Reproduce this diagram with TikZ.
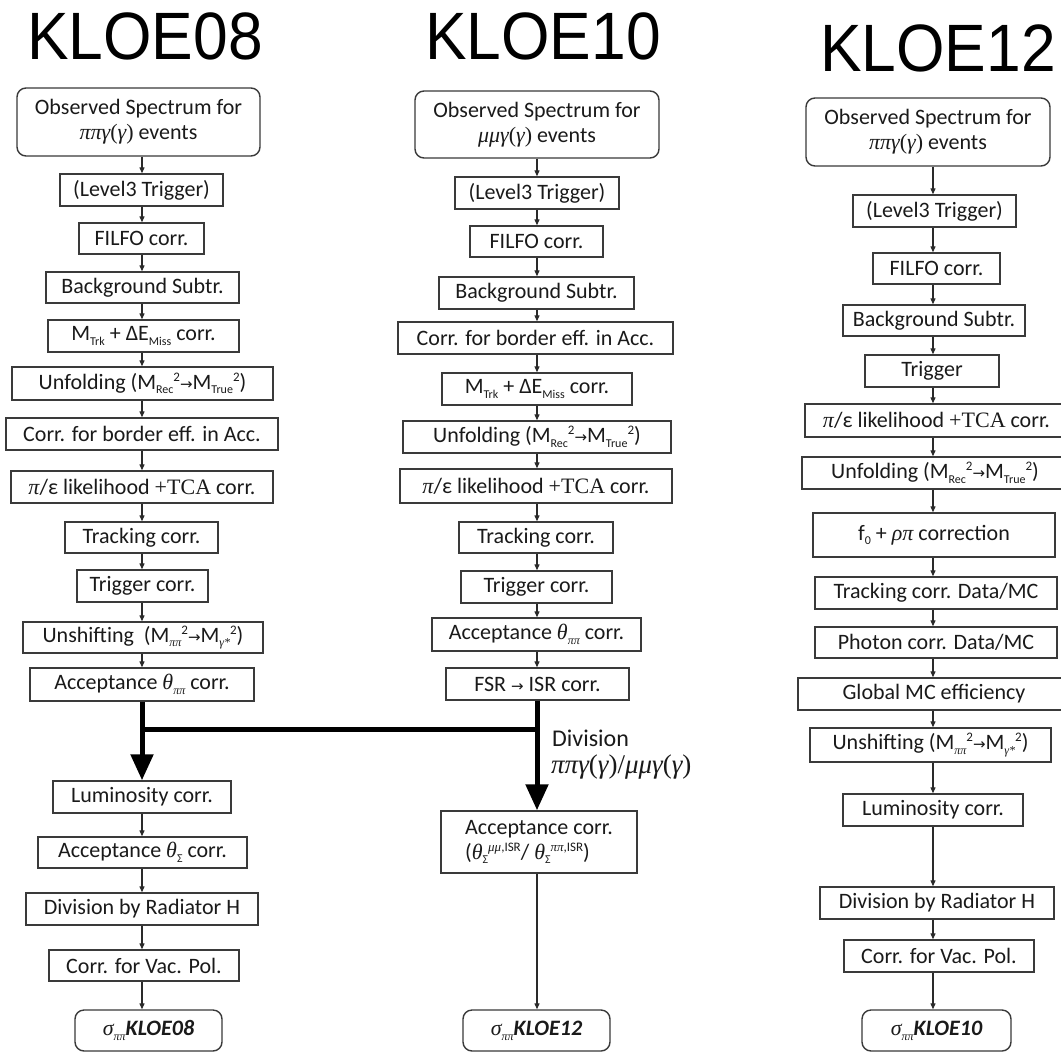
\documentclass[tikz,border=0pt]{standalone}
\usepackage{fontspec}
\setmainfont{Carlito}
\newfontfamily\titlefont{Liberation Sans}
\newfontfamily\serif{Liberation Serif}
\newfontfamily\dv{DejaVu Sans}
\usetikzlibrary{arrows.meta}
\definecolor{boxc}{HTML}{3A3A3A}
\definecolor{txtc}{HTML}{1A1A1A}
\definecolor{linec}{HTML}{2A2A2A}
\newcommand\gk[1]{{\serif\itshape #1}}
\newcommand\lsub[1]{\raisebox{-0.45ex}{\fontsize{12}{12}\selectfont #1}}
\newcommand\lsup[1]{\raisebox{0.75ex}{\fontsize{13}{13}\selectfont #1}}
\newcommand\rarr{{\dv\fontsize{15}{15}\selectfont →}}
\newcommand\bxfont{\fontsize{22}{25}\selectfont\color{txtc}}
\tikzset{
  box/.style={draw=boxc, line width=1.4pt, inner sep=0pt, font=\bxfont, align=center},
  rbox/.style={box, rounded corners=9pt},
  arr/.style={draw=linec, line width=1.2pt, -{Triangle[width=5pt,length=6pt]}},
  bigarr/.style={draw=black, line width=5pt, -{Triangle[width=22pt,length=26pt]}},
  bigline/.style={draw=black, line width=5pt},
  ttl/.style={font=\titlefont\fontsize{67}{67}\selectfont, inner sep=0pt, anchor=base},
  lbl/.style={font=\fontsize{24}{27}\selectfont\color{txtc}, inner sep=0pt, anchor=base west},
}
\begin{document}
\begin{tikzpicture}[x=1pt,y=-1pt]
\useasboundingbox (0,0) rectangle (1061,1053);
\clip (0,0) rectangle (1061,1053);
\fill[white] (0,0) rectangle (1061,1053);
% titles
\node[ttl] (t08) at (145,59) {\scalebox{0.93}[1]{KLOE08}};
\node[ttl] (t10) at (543,59) {\scalebox{0.93}[1]{KLOE10}};
\node[ttl] (t12) at (938,71) {\scalebox{0.93}[1]{KLOE12}};
\coordinate (X1) at (142,0);
\coordinate (X2) at (537,0);
\coordinate (X3) at (933,0);
% column 1
\node[rbox, minimum width=243pt, minimum height=68pt] (o1) at (138.5,122) {Observed Spectrum for\\\gk{ππγ}{\serif(}\gk{γ}{\serif)} events};
\node[box, minimum width=163pt, minimum height=32pt] (l1) at (141.5,190) {(Level3 Trigger)};
\node[box, minimum width=125pt, minimum height=31pt] (f1) at (141.5,238.5) {FILFO corr.};
\node[box, minimum width=193pt, minimum height=31pt] (b1) at (142.5,287.5) {Background Subtr.};
\node[box, minimum width=191pt, minimum height=32pt] (m1) at (143.5,336) {M\lsub{Trk} + ΔE\lsub{Miss} corr.};
\node[box, minimum width=261pt, minimum height=33pt] (u1) at (142.5,383.5) {Unfolding (M\lsub{Rec}\lsup{2}\rarr M\lsub{True}\lsup{2})};
\node[box, minimum width=272pt, minimum height=32pt] (c1) at (142,434) {Corr. for border eff. in Acc.};
\node[box, minimum width=262pt, minimum height=32pt] (p1) at (142,487) {\gk{π}/ε likelihood {\serif +TCA} corr.};
\node[box, minimum width=153pt, minimum height=31pt] (t1) at (141.5,537.5) {Tracking corr.};
\node[box, minimum width=131pt, minimum height=32pt] (g1) at (142.5,586) {Trigger corr.};
\node[box, minimum width=240pt, minimum height=31pt] (s1) at (143,637.5) {Unshifting\ \ (M\lsub{\gk{ππ}}\lsup{2}\rarr M\lsub{\gk{γ*}}\lsup{2})};
\node[box, minimum width=224pt, minimum height=33pt] (a1) at (142,684.5) {Acceptance \gk{θ}\lsub{\gk{ππ}} corr.};
\node[box, minimum width=178pt, minimum height=32pt] (lu1) at (142,797) {Luminosity corr.};
\node[box, minimum width=209pt, minimum height=31pt] (at1) at (142.5,852.5) {Acceptance \gk{θ}\lsub{Σ} corr.};
\node[box, minimum width=232pt, minimum height=32pt] (d1) at (142,909) {Division by Radiator H};
\node[box, minimum width=190pt, minimum height=31pt] (v1) at (144,965.5) {Corr. for Vac. Pol.};
\node[rbox, minimum width=147pt, minimum height=41pt] (k1) at (148.5,1030.5) {\gk{σ}\lsub{\gk{ππ}}{\bfseries\itshape KLOE08}};
% column 2
\node[rbox, minimum width=244pt, minimum height=67pt] (o2) at (537,124.5) {Observed Spectrum for\\\gk{μμγ}{\serif(}\gk{γ}{\serif)} events};
\node[box, minimum width=164pt, minimum height=32pt] (l2) at (537,193) {(Level3 Trigger)};
\node[box, minimum width=133pt, minimum height=31pt] (f2) at (536.5,241.5) {FILFO corr.};
\node[box, minimum width=195pt, minimum height=32pt] (b2) at (536.5,293) {Background Subtr.};
\node[box, minimum width=275pt, minimum height=32pt] (c2) at (535.5,338) {Corr. for border eff. in Acc.};
\node[box, minimum width=190pt, minimum height=32pt] (m2) at (537,389) {M\lsub{Trk} + ΔE\lsub{Miss} corr.};
\node[box, minimum width=268pt, minimum height=32pt] (u2) at (537,437) {Unfolding (M\lsub{Rec}\lsup{2}\rarr M\lsub{True}\lsup{2})};
\node[box, minimum width=272pt, minimum height=34pt] (p2) at (536,486) {\gk{π}/ε likelihood {\serif +TCA} corr.};
\node[box, minimum width=154pt, minimum height=31pt] (t2) at (536,537.5) {Tracking corr.};
\node[box, minimum width=151pt, minimum height=32pt] (g2) at (536.5,587) {Trigger corr.};
\node[box, minimum width=209pt, minimum height=33pt] (a2) at (536.5,634.5) {Acceptance \gk{θ}\lsub{\gk{ππ}} corr.};
\node[box, minimum width=183pt, minimum height=32pt] (fs2) at (537.5,684) {FSR \rarr{} ISR corr.};
\node[box, minimum width=196pt, minimum height=62pt, align=left] (ac2) at (539,842) {Acceptance corr.\\(\gk{θ}\lsub{Σ}\lsup{\gk{μμ},ISR}/ \gk{θ}\lsub{Σ}\lsup{\gk{ππ},ISR})};
\node[rbox, minimum width=147pt, minimum height=41pt] (k2) at (536.5,1030.5) {\gk{σ}\lsub{\gk{ππ}}{\bfseries\itshape KLOE12}};
\node[lbl] (dv) at (552,746) {Division};
\node[lbl, font=\fontsize{27}{30}\selectfont\color{txtc}] (dv2) at (551,773) {\gk{ππγ}{\serif(}\gk{γ}{\serif)/}\gk{μμγ}{\serif(}\gk{γ}{\serif)}};
% column 3
\node[rbox, minimum width=244pt, minimum height=68pt] (o3) at (928,132) {Observed Spectrum for\\\gk{ππγ}{\serif(}\gk{γ}{\serif)} events};
\node[box, minimum width=163pt, minimum height=32pt] (l3) at (934.5,211) {(Level3 Trigger)};
\node[box, minimum width=127pt, minimum height=31pt] (f3) at (936.5,268.5) {FILFO corr.};
\node[box, minimum width=182pt, minimum height=31pt] (b3) at (934,320.5) {Background Subtr.};
\node[box, minimum width=134pt, minimum height=32pt] (tr3) at (932,371) {Trigger};
\node[box, minimum width=263pt, minimum height=33pt] (p3) at (936.5,420.5) {\gk{π}/ε likelihood {\serif +TCA} corr.};
\node[box, minimum width=266pt, minimum height=32pt] (u3) at (935,473) {Unfolding (M\lsub{Rec}\lsup{2}\rarr M\lsub{True}\lsup{2})};
\node[box, minimum width=242pt, minimum height=44pt] (f03) at (934,535) {f\lsub{0} + \gk{ρπ} correction};
\node[box, minimum width=242pt, minimum height=32pt] (tk3) at (936,593) {Tracking corr. Data/MC};
\node[box, minimum width=242pt, minimum height=31pt] (ph3) at (936,642.5) {Photon corr. Data/MC};
\node[box, minimum width=272pt, minimum height=32pt] (gm3) at (934,694) {Global MC efficiency};
\node[box, minimum width=241pt, minimum height=34pt] (us3) at (930.5,745) {Unshifting (M\lsub{\gk{ππ}}\lsup{2}\rarr M\lsub{\gk{γ*}}\lsup{2})};
\node[box, minimum width=180pt, minimum height=32pt] (lu3) at (933,810) {Luminosity corr.};
\node[box, minimum width=234pt, minimum height=32pt] (d3) at (937,903) {Division by Radiator H};
\node[box, minimum width=190pt, minimum height=32pt] (v3) at (939,956) {Corr. for Vac. Pol.};
\node[rbox, minimum width=149pt, minimum height=41pt] (k3) at (936.5,1030.5) {\gk{σ}\lsub{\gk{ππ}}{\bfseries\itshape KLOE10}};
% connectors
\foreach \a/\b in {o1/l1,l1/f1,f1/b1,b1/m1,m1/u1,u1/c1,c1/p1,p1/t1,t1/g1,g1/s1,s1/a1,lu1/at1,at1/d1,d1/v1,v1/k1}
  \draw[arr] (\a.south -| X1) -- (\b.north -| X1);
\foreach \a/\b in {o2/l2,l2/f2,f2/b2,b2/c2,c2/m2,m2/u2,u2/p2,p2/t2,t2/g2,g2/a2,a2/fs2,ac2/k2}
  \draw[arr] (\a.south -| X2) -- (\b.north -| X2);
\foreach \a/\b in {o3/l3,l3/f3,f3/b3,b3/tr3,tr3/p3,p3/u3,u3/f03,f03/tk3,tk3/ph3,ph3/gm3,gm3/us3,us3/lu3,lu3/d3,d3/v3,v3/k3}
  \draw[arr] (\a.south -| X3) -- (\b.north -| X3);
\coordinate (jL) at (142,729);
\coordinate (jR) at (537,729);
\draw[bigarr] (a1.south -| X1) -- (lu1.north -| X1);
\draw[bigarr] (fs2.south -| X2) -- (ac2.north -| X2);
\draw[bigline] (jL) -- (jR);
\end{tikzpicture}
\end{document}
